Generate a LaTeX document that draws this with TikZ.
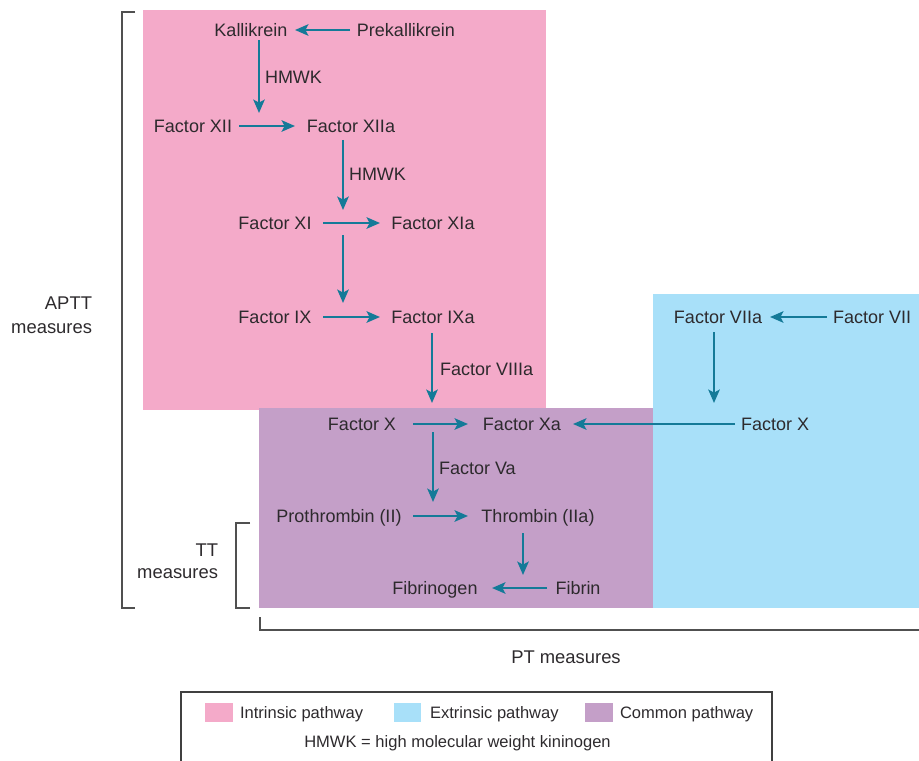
\documentclass[tikz,border=0pt]{standalone}
\usepackage{fontspec}
\setmainfont{Liberation Sans}
\usetikzlibrary{arrows.meta}
\definecolor{pinkbg}{RGB}{244,170,201}
\definecolor{bluebg}{RGB}{168,224,249}
\definecolor{purpbg}{RGB}{196,159,200}
\definecolor{arrowc}{RGB}{20,122,152}
\definecolor{txtc}{RGB}{45,42,45}
\definecolor{brc}{RGB}{80,80,80}
\begin{document}
\begin{tikzpicture}[x=0.75pt,y=-0.75pt,
  lbl/.style={font=\fontsize{13.5}{16}\selectfont, text=txtc, inner sep=0pt, outer sep=0pt, text height=9.7pt, text depth=0pt},
  side/.style={font=\fontsize{13.8}{16}\selectfont, text=txtc, inner sep=0pt, outer sep=0pt, text height=9.9pt, text depth=0pt},
  leg/.style={font=\fontsize{12.4}{15}\selectfont, text=txtc, inner sep=0pt, outer sep=0pt, text height=8.9pt, text depth=0pt},
  arr/.style={draw=arrowc, line width=2.1pt, -{Stealth[length=10pt,width=8.5pt,inset=2.2pt]}},
  brk/.style={draw=brc, line width=1.3pt},
  ]
\useasboundingbox (0,0) rectangle (919,760);
% pathway regions
\fill[pinkbg] (143,10) rectangle (546,410);
\fill[bluebg] (653,294) rectangle (919,608);
\fill[purpbg] (259,408) rectangle (653,608);

% nodes
\node[lbl] (kal) at (251,30) {Kallikrein};
\node[lbl] (prek) at (406,30) {Prekallikrein};
\node[lbl] (xii) at (193,126) {Factor XII};
\node[lbl] (xiia) at (351,126) {Factor XIIa};
\node[lbl] (xi) at (275,223) {Factor XI};
\node[lbl] (xia) at (433,223) {Factor XIa};
\node[lbl] (ix) at (275,317) {Factor IX};
\node[lbl] (ixa) at (433,317) {Factor IXa};
\node[lbl] (x) at (362,424) {Factor X};
\node[lbl] (xa) at (522,424) {Factor Xa};
\node[lbl] (pro) at (339,516) {Prothrombin (II)};
\node[lbl] (thr) at (538,516) {Thrombin (IIa)};
\node[lbl] (fbg) at (435,588) {Fibrinogen};
\node[lbl] (fib) at (578,588) {Fibrin};
\node[lbl] (viia) at (718,317) {Factor VIIa};
\node[lbl] (vii) at (872,317) {Factor VII};
\node[lbl] (xe) at (775,424) {Factor X};

\node[lbl,anchor=west] (h1) at (265,77) {HMWK};
\node[lbl,anchor=west] (h2) at (349,174) {HMWK};
\node[lbl,anchor=west] (f8) at (440,369) {Factor VIIIa};
\node[lbl,anchor=west] (f5) at (439,468) {Factor Va};

% free ends of vertical connectors
\coordinate (k1) at (259,113);
\coordinate (k2) at (343,210);
\coordinate (k3a) at (343,235);
\coordinate (k3b) at (343,303);
\coordinate (k4) at (432,403);
\coordinate (k5a) at (433,432);
\coordinate (k5b) at (433,502);
\coordinate (k6) at (523,575);
\coordinate (k7) at (714,403);

% horizontal arrows
\draw[arr] (prek.west -| 350,0) -- (kal.east -| 295,0);
\draw[arr] (xii.east -| 239,0) -- (xiia.west -| 295,0);
\draw[arr] (xi.east -| 323,0) -- (xia.west -| 380,0);
\draw[arr] (ix.east -| 323,0) -- (ixa.west -| 380,0);
\draw[arr] (x.east -| 413,0) -- (xa.west -| 468,0);
\draw[arr] (xe.west -| 735,0) -- (xa.east -| 573,0);
\draw[arr] (pro.east -| 413,0) -- (thr.west -| 468,0);
\draw[arr] (fib.west -| 547,0) -- (fbg.east -| 492,0);
\draw[arr] (vii.west -| 827,0) -- (viia.east -| 770,0);

% vertical arrows
\draw[arr, shorten <=2.7pt] (kal.south -| k1) -- (k1);
\draw[arr, shorten <=5.6pt] (xiia.south -| k2) -- (k2);
\draw[arr] (k3a) -- (k3b);
\draw[arr, shorten <=7.1pt] (ixa.south -| k4) -- (k4);
\draw[arr] (k5a) -- (k5b);
\draw[arr, shorten <=7.9pt] (thr.south -| k6) -- (k6);
\draw[arr, shorten <=6.4pt] (viia.south -| k7) -- (k7);

% brackets
\draw[brk] (135,12) -- (122,12) -- (122,608) -- (135,608);
\draw[brk] (250,523) -- (236,523) -- (236,608) -- (250,608);
\draw[brk] (260,617) -- (260,630) -- (919,630);

\node[side,anchor=east] (aptt) at (92,303) {APTT};
\node[side,anchor=east] (aptm) at (92,327) {measures};
\node[side,anchor=east] (tt) at (218,550) {TT};
\node[side,anchor=east] (ttm) at (218,572) {measures};
\node[side] (pt) at (566,657) {PT measures};

% legend
\draw[brk, line width=1pt, draw=black!75] (181,765) -- (181,692) -- (772,692) -- (772,765);
\fill[pinkbg] (205,703) rectangle (233,722);
\fill[bluebg] (394,703) rectangle (421,722);
\fill[purpbg] (585,703) rectangle (613,722);
\node[leg,anchor=west] (l1) at (240,713) {Intrinsic pathway};
\node[leg,anchor=west] (l2) at (430,713) {Extrinsic pathway};
\node[leg,anchor=west] (l3) at (620,713) {Common pathway};
\node[leg] (l4) at (457.5,742) {HMWK = high molecular weight kininogen};
\end{tikzpicture}
\end{document}
